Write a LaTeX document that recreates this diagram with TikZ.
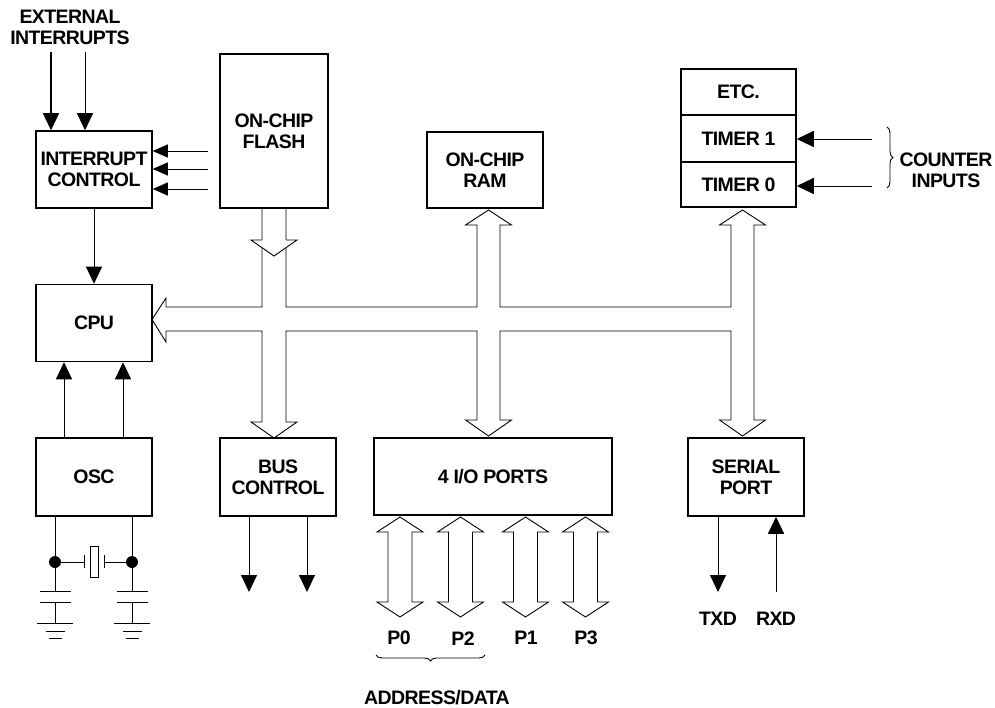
\documentclass[tikz,border=0pt]{standalone}
\usepackage{fontspec}
\setmainfont{Liberation Sans}[LetterSpace=-3]
\usetikzlibrary{arrows.meta,decorations.pathreplacing,calc}
\tikzset{
  txt/.style={font=\fontsize{19.5}{21}\selectfont\bfseries, align=center, inner sep=0pt},
  blk/.style={txt, draw, line width=1.5pt, minimum width=#1},
  blk/.default=116pt,
  thin/.style={line width=0.9pt},
  bus/.style={line width=0.9pt, line join=miter},
  arr/.style={line width=0.9pt, -{Triangle[length=17pt,width=16pt]}},
  sarr/.style={line width=0.9pt, -{Triangle[length=15pt,width=13pt]}},
}
\begin{document}
\begin{tikzpicture}[x=1pt,y=-1pt]
\useasboundingbox (0,0) rectangle (995,708);
% blocks
\node[blk, minimum height=77pt] (intc) at (94,169.5) {INTERRUPT\\CONTROL};
\node[blk=108pt, minimum height=154pt] (flash) at (274,131) {ON-CHIP\\FLASH};
\node[blk, minimum height=76pt] (ram) at (485,170) {ON-CHIP\\RAM};
\node[blk=115pt, minimum height=46pt] (etc) at (738.5,92) {ETC.};
\node[blk=115pt, minimum height=47pt] (t1) at (738.5,138.5) {TIMER 1};
\node[blk=115pt, minimum height=45pt] (t0) at (738.5,184.5) {TIMER 0};
\node[blk, minimum height=77pt] (cpu) at (94,323) {CPU};
\node[blk, minimum height=78pt] (osc) at (94,477) {OSC};
\node[blk, minimum height=78pt] (busc) at (278,477) {BUS\\CONTROL};
\node[blk=238pt, minimum height=77pt] (ports) at (493,476.5) {4 I/O PORTS};
\node[blk, minimum height=78pt] (serial) at (746,477) {SERIAL\\PORT};

% labels
\node[txt] (extl) at (70,27) {EXTERNAL\\INTERRUPTS};
\node[txt] (cntl) at (946,170) {COUNTER\\INPUTS};
\node[txt] (txd) at (718,619) {TXD};
\node[txt] (rxd) at (776,619) {RXD};
\node[txt] (p0) at (399,638) {P0};
\node[txt] (p2) at (463,639) {P2};
\node[txt] (p1) at (526,638) {P1};
\node[txt] (p3) at (586,638) {P3};
\node[txt] (adl) at (437,698) {ADDRESS/DATA};

% braces
\draw[thin, decorate, decoration={brace, amplitude=6pt}] (887,127) -- (887,188);
\draw[thin, decorate, decoration={brace, amplitude=6pt}] (485,655) -- (376,655);

% external interrupts
\coordinate (ei1) at (51,52);
\coordinate (ei2) at (85,52);
\draw[arr, line width=1.4pt] (ei1) -- (ei1 |- intc.north);
\draw[arr] (ei2) -- (ei2 |- intc.north);
% side inputs to interrupt control
\foreach \yy/\nm in {151/s1,169/s2,189/s3}{
  \coordinate (\nm) at (208,\yy);
  \draw[sarr] (\nm) -- (\nm -| intc.east);
}
\draw[arr] (intc.south) -- (cpu.north);
% osc to cpu
\coordinate (o1) at (64,0);
\coordinate (o2) at (123,0);
\draw[arr] (osc.north -| o1) -- (cpu.south -| o1);
\draw[arr] (osc.north -| o2) -- (cpu.south -| o2);

% crystal circuit
\coordinate (xl) at (55,562);
\coordinate (xr) at (132,562);
\draw[thin] (osc.south -| xl) -- (55,591);
\draw[thin] (osc.south -| xr) -- (132,591);
\draw[thin] (xl) -- (84,562) (84,555) -- (84,568);
\draw[thin] (104,562) -- (xr) (104,555) -- (104,568);
\draw[line width=0.7pt] (90,546) rectangle (98,577);
\fill (xl) circle (6pt) (xr) circle (6pt);
\foreach \cx in {55,132}{
  \draw[thin] (\cx-15.5,591) -- (\cx+15.5,591) (\cx-15.5,602) -- (\cx+15.5,602)
    (\cx,602) -- (\cx,623)
    (\cx-18,623) -- (\cx+18,623) (\cx-9.5,631) -- (\cx+9.5,631) (\cx-6.5,638) -- (\cx+6.5,638);
}

% bus control outputs
\coordinate (b1) at (249,592);
\coordinate (b2) at (307,592);
\draw[arr] (busc.south -| b1) -- (b1);
\draw[arr] (busc.south -| b2) -- (b2);
% serial
\coordinate (tx) at (718,592);
\coordinate (rx) at (776,592);
\draw[arr] (serial.south -| tx) -- (tx);
\draw[arr] (rx) -- (serial.south -| rx);
% counter inputs
\coordinate (c1) at (872,139);
\coordinate (c0) at (872,186);
\draw[arr] (c1) -- (c1 -| t1.east);
\draw[arr] (c0) -- (c0 -| t0.east);

% internal bus
\draw[bus] (262,208) -- (262,307) -- (166,307) -- (166,298) -- (152,319.5) -- (166,342) -- (166,331) -- (262,331)
  -- (262,422) -- (251,422) -- (274,438) -- (297,422) -- (286,422) -- (286,331)
  -- (477,331) -- (477,420) -- (465.5,420) -- (488.5,436) -- (511.5,420) -- (500,420) -- (500,331)
  -- (731,331) -- (731,420) -- (719.5,420) -- (742.5,436) -- (765.5,420) -- (754,420)
  -- (754,225) -- (765.5,225) -- (742.5,210) -- (719.5,225) -- (731,225) -- (731,307)
  -- (500,307) -- (500,225) -- (511.5,225) -- (488.5,210) -- (465.5,225) -- (477,225) -- (477,307)
  -- (286,307) -- (286,208);
\filldraw[bus, fill=white] (262,240) -- (251,240) -- (274,256) -- (297,240) -- (286,240);

% port arrows
\foreach \c in {400,460.5,525.5,585.5}{
  \draw[bus] (\c-12,532) -- (\c-23,532) -- (\c,517) -- (\c+23,532) -- (\c+12,532)
    -- (\c+12,602) -- (\c+23,602) -- (\c,617) -- (\c-23,602) -- (\c-12,602) -- cycle;
}
\end{tikzpicture}
\end{document}
